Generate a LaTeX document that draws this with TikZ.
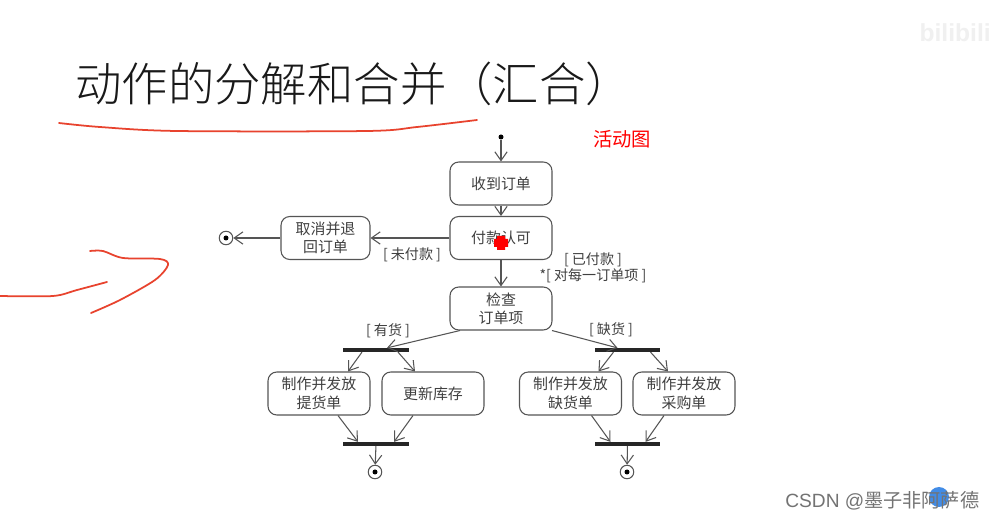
\documentclass[tikz,border=0pt]{standalone}
\usepackage{fontspec}
\setmainfont{Noto Sans CJK SC}
\newfontfamily\latinfont{Liberation Sans}
\newfontfamily\titelfont{Noto Sans CJK SC Light}
\usepackage{tikz}
\usetikzlibrary{arrows.meta,positioning,calc}
\definecolor{strich}{HTML}{555555}
\definecolor{rotstift}{HTML}{E8432E}
\definecolor{kreisblau}{HTML}{428CE6}
\tikzset{
  aktion/.style={rectangle, draw=strich, rounded corners=5pt, line width=0.6pt, minimum width=2.04cm, minimum height=0.86cm, align=center, font=\fontsize{8.5}{10.5}\selectfont, text=black!75, inner sep=0pt},
  pfeil/.style={draw=strich, line width=0.6pt, -{Straight Barb[length=5pt,width=7pt]}},
  balken/.style={rectangle, fill=black!85, minimum width=1.32cm, minimum height=2pt, inner sep=0pt},
  bedingung/.style={font=\fontsize{8}{10}\selectfont, text=black!75, inner sep=0pt},
  endkreis/.style={circle, draw=strich, line width=0.6pt, fill=white, minimum size=0.27cm, inner sep=0pt},
  kern/.style={circle, fill=black, minimum size=0.1cm, inner sep=0pt},
  stift/.style={draw=rotstift, line width=1pt, line cap=round, line join=round}
}
\begin{document}
\begin{tikzpicture}[x=0.02cm,y=-0.02cm]
        % Rahmen
        \useasboundingbox (0,0) rectangle (992,520);
        \fill[white] (0,0) rectangle (992,520);
        % Titel
        \node[anchor=west, inner sep=0pt, font=\titelfont\fontsize{26.4}{30}\selectfont, text=black!90] (titel) at (75,84) {动作的分解和合并（汇合）};
        \node[inner sep=0pt, font=\fontsize{11}{13}\selectfont, text=red] (hinweis) at (622,139) {活动图};
        % Start
        \node[kern] (start) at (501,137) {};
        % Aktionen
        \node[aktion] (empfang) at (501,183.5) {收到订单};
        \node[aktion] (zahlung) at (501,238) {付款认可};
        \node[aktion, minimum width=1.78cm] (abbruch) at (325.5,238) {取消并退\\回订单};
        \node[aktion] (pruefung) at (501,308.5) {检查\\订单项};
        \node[aktion] (liefer) at (319,393.5) {制作并发放\\提货单};
        \node[aktion] (lager) at (433,393.5) {更新库存};
        \node[aktion] (rueck) at (570.5,393.5) {制作并发放\\缺货单};
        \node[aktion] (einkauf) at (684,393.5) {制作并发放\\采购单};
        % Balken
        \node[balken] (gabelL) at (376,350) {};
        \node[balken] (gabelR) at (627.5,350) {};
        \node[balken] (joinL) at (376,444) {};
        \node[balken] (joinR) at (627.5,444) {};
        % Endpunkte
        \node[endkreis] (endeA) at (226,238) {};
        \node[kern] at (endeA) {};
        \node[endkreis] (endeL) at (375,472) {};
        \node[kern] at (endeL) {};
        \node[endkreis] (endeR) at (627,472) {};
        \node[kern] at (endeR) {};
        % Pfeile Mitte
        \draw[pfeil] (start) -- (empfang);
        \draw[pfeil] (empfang) -- (zahlung);
        \draw[pfeil] (zahlung) -- (pruefung);
        \draw[pfeil] (zahlung) -- (abbruch);
        \draw[pfeil] (abbruch) -- (endeA);
        % Pfeile zu den Balken
        \draw[pfeil] ($(pruefung.south)+(-41,0)$) -- ($(gabelL.north)+(11,0)$);
        \draw[pfeil] ($(pruefung.south)+(51,0)$) -- ($(gabelR.north)+(-10,0)$);
        % Gabel links
        \draw[pfeil] ($(gabelL.south)+(-14,0)$) -- ($(liefer.north)+(29,0)$);
        \draw[pfeil] ($(gabelL.south)+(22,0)$) -- ($(lager.north)+(-18,0)$);
        \draw[pfeil] ($(liefer.south)+(19,0)$) -- ($(joinL.north)+(-18,0)$);
        \draw[pfeil] ($(lager.south)+(-20,0)$) -- ($(joinL.north)+(18,0)$);
        % Gabel rechts
        \draw[pfeil] ($(gabelR.south)+(-14,0)$) -- ($(rueck.north)+(28,0)$);
        \draw[pfeil] ($(gabelR.south)+(23,0)$) -- ($(einkauf.north)+(-16,0)$);
        \draw[pfeil] ($(rueck.south)+(21,0)$) -- ($(joinR.north)+(-17,0)$);
        \draw[pfeil] ($(einkauf.south)+(-20,0)$) -- ($(joinR.north)+(18,0)$);
        % Pfeile zum Ende
        \draw[pfeil] (joinL) -- (endeL);
        \draw[pfeil] (joinR) -- (endeR);
        % Bedingungen
        \node[bedingung] (unbezahlt) at (412,255) {[ 未付款 ]};
        \node[bedingung] (bezahlt) at (593,260) {[ 已付款 ]};
        \node[bedingung] (jedes) at (593,276) {*[ 对每一订单项 ]};
        \node[bedingung] (vorrat) at (388,331) {[ 有货 ]};
        \node[bedingung] (mangel) at (611,330) {[ 缺货 ]};
        % Roter Mauszeiger
        \fill[red] (497,236) -- (505,236) -- (505,239) -- (508,239) -- (508,247) -- (505,247) -- (505,250) -- (497,250) -- (497,247) -- (494,247) -- (494,239) -- (497,239) -- cycle;
        % Handschrift
        \draw[stift] plot[smooth] coordinates {(59,123) (100,127) (177,131) (367,131) (417,127) (477,120)};
        \draw[stift] plot[smooth] coordinates {(0,296) (53,296) (77,290) (107,282)};
        \draw[stift] plot[smooth] coordinates {(90,251) (103,251) (123,258) (160,259) (168,265) (155,280) (120,300) (91,313)};
        % Wasserzeichen
        \fill[kreisblau] (939,497) circle (10);
        \node[anchor=west, inner sep=0pt, font=\fontsize{10.9}{12}\selectfont, text=black!55] (csdn) at (785,501) {{\latinfont CSDN @}墨子非阿萨德};
        \node[anchor=east, inner sep=0pt, font=\latinfont\bfseries\fontsize{14}{16}\selectfont, text=black!6] (bili) at (991,33) {bilibili};
    \end{tikzpicture}
\end{document}
